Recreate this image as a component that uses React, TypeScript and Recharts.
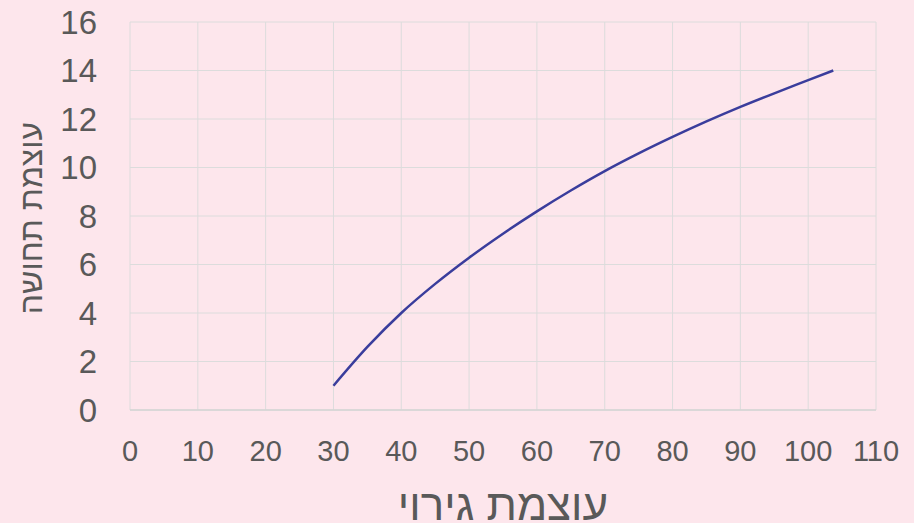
import React from "react";
import { LineChart, Line, XAxis, YAxis, CartesianGrid } from "recharts";

// stimulus intensity (x) vs sensation intensity (y)
const stimulus = [30, 35, 40, 45, 50, 55, 60, 65, 70, 75, 80, 85, 90, 95, 100, 103.7];
const sensation = [1, 2.6, 4.0, 5.2, 6.28, 7.27, 8.19, 9.05, 9.85, 10.58, 11.26, 11.9, 12.5, 13.06, 13.6, 14];

const xTicks = [0, 10, 20, 30, 40, 50, 60, 70, 80, 90, 100, 110];
const yTicks = [0, 2, 4, 6, 8, 10, 12, 14, 16];

const xTitle = "עוצמת גירוי";
const yTitle = "עוצמת תחושה";

const data = stimulus.map((x, i) => ({ x, y: sensation[i] }));

const textColor = "#595959";
const font = "'Liberation Sans', Arial, sans-serif";

export default function App() {
  return (
    <div
      style={{
        position: "absolute",
        left: 0,
        top: 0,
        width: 914,
        height: 523,
        background: "#fde6ec",
        fontFamily: font,
      }}
    >
      <LineChart
        width={914}
        height={523}
        data={data}
        margin={{ top: 22, right: 38, left: 0, bottom: 0 }}
      >
        <CartesianGrid stroke="#dcdcdc" strokeWidth={1} />
        <XAxis
          dataKey="x"
          type="number"
          domain={[0, 110]}
          ticks={xTicks}
          interval={0}
          height={113}
          tickLine={false}
          tickSize={0}
          tickMargin={30}
          axisLine={{ stroke: "#d4d4d4", strokeWidth: 1.5 }}
          tick={{ fill: textColor, fontSize: 29, fontFamily: font }}
          label={{
            content: ({ viewBox }: any) => (
              <text
                x={viewBox.x + viewBox.width / 2}
                y={viewBox.y + 110}
                textAnchor="middle"
                fill={textColor}
                fontSize={44}
                fontFamily={font}
              >
                {xTitle}
              </text>
            ),
          }}
        />
        <YAxis
          dataKey="y"
          type="number"
          domain={[0, 16]}
          ticks={yTicks}
          interval={0}
          width={130}
          tickLine={false}
          tickSize={0}
          tickMargin={33}
          axisLine={false}
          tick={{ fill: textColor, fontSize: 33, fontFamily: font }}
          label={{
            content: ({ viewBox }: any) => {
              const cx = viewBox.x + 31;
              const cy = viewBox.y + viewBox.height / 2 + 2;
              return (
                <text
                  x={cx}
                  y={cy}
                  transform={`rotate(-90 ${cx} ${cy})`}
                  textAnchor="middle"
                  dominantBaseline="central"
                  fill={textColor}
                  fontSize={32}
                  fontFamily={font}
                >
                  {yTitle}
                </text>
              );
            },
          }}
        />
        <Line
          type="monotone"
          dataKey="y"
          stroke="#3a3d9c"
          strokeWidth={2.5}
          dot={false}
          isAnimationActive={false}
        />
      </LineChart>
    </div>
  );
}
